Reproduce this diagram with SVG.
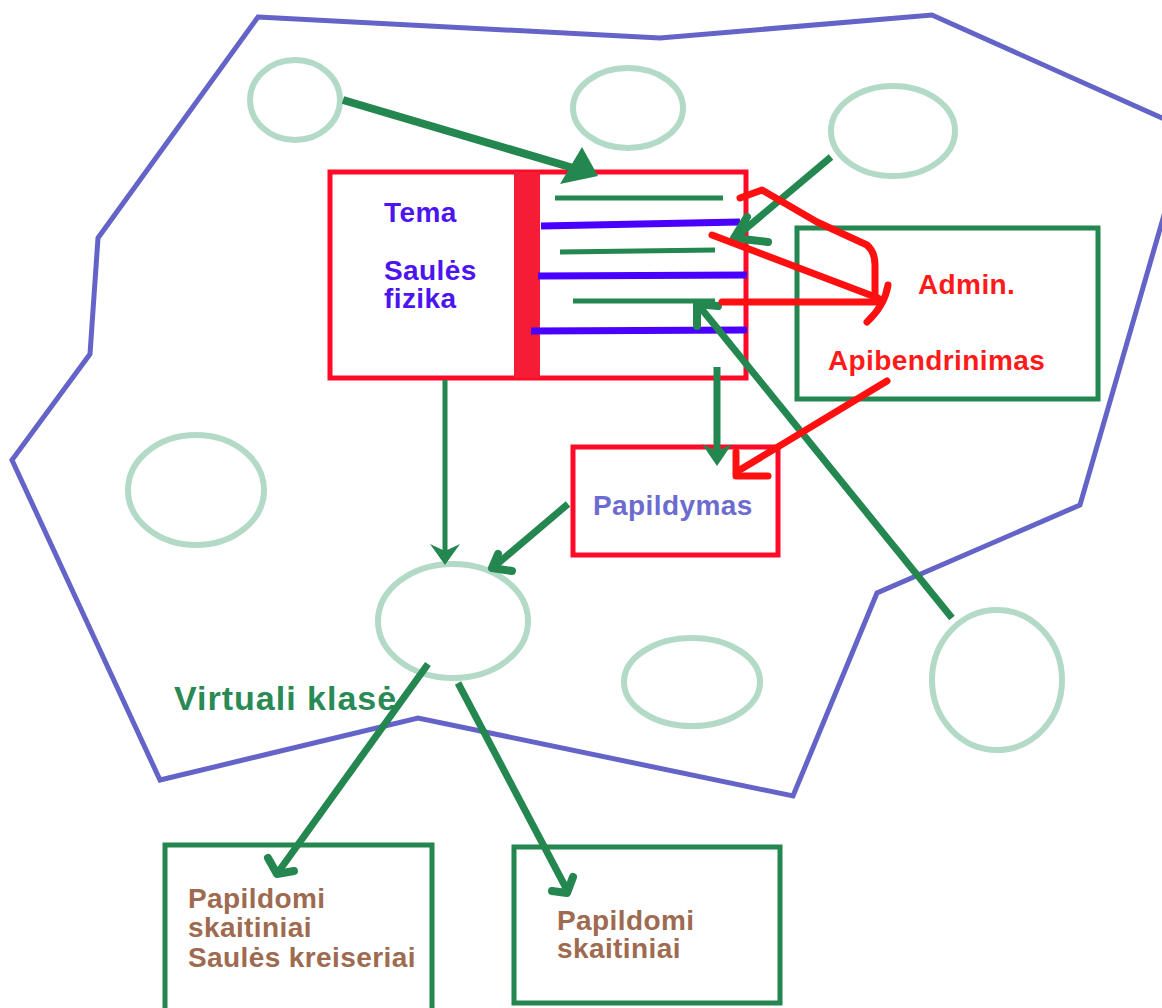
<svg xmlns="http://www.w3.org/2000/svg" width="1162" height="1008" viewBox="0 0 1162 1008">
<style>
.area{fill:none;stroke:#6464c8;stroke-width:5;stroke-linejoin:miter}
.ell{fill:none;stroke:#b3dac6;stroke-width:6}
.rbox{fill:#fff;stroke:#ff0a28;stroke-width:5}
.gbox{fill:none;stroke:#23874f;stroke-width:5}
.gl{stroke:#23874f;stroke-width:5;fill:none}
.bl{stroke:#4a00ff;stroke-width:7;fill:none}
.conn{stroke:#23874f;stroke-width:7;fill:none;stroke-linecap:butt}
.head{stroke:#23874f;stroke-width:8;fill:none;stroke-linecap:round;stroke-linejoin:round}
.fhead{fill:#23874f;stroke:none}
.red{stroke:#ff1010;stroke-width:7;fill:none;stroke-linecap:round;stroke-linejoin:round}
text{font-family:"Liberation Sans",Arial,sans-serif;font-weight:bold;font-size:28px;letter-spacing:0.4px}
.tb{fill:#4b14f0}
.tr{fill:#ff1a1a}
.tp{fill:#6b6bd0}
.tbr{fill:#9e6a50}
.tg{fill:#2a8a55;font-size:34px;letter-spacing:1px}
</style>

<g id="virtual-class">
<path class="area" d="M258,17 L660,38 L932,15 L1182,127 L1180,160 L1080,505 L877,593 L793,796 L418,718 L160,780 L12,460 L90,354 L98,238 Z"/>
<text class="tg" x="174" y="710">Virtuali klasė</text>
</g>

<g id="circles">
<ellipse id="c1" class="ell" cx="295" cy="100" rx="45" ry="40"/>
<ellipse id="c2" class="ell" cx="628" cy="108" rx="55" ry="40"/>
<ellipse id="c3" class="ell" cx="893" cy="131" rx="62" ry="45"/>
<ellipse id="c4" class="ell" cx="196" cy="490" rx="68" ry="55"/>
<ellipse id="c5" class="ell" cx="453" cy="621" rx="75" ry="57"/>
<ellipse id="c6" class="ell" cx="692" cy="682" rx="68" ry="44"/>
<ellipse id="c7" class="ell" cx="997" cy="680" rx="65" ry="70"/>
</g>

<g id="tema">
<rect class="rbox" x="330" y="172" width="416" height="206"/>
<rect x="514" y="172" width="26" height="206" fill="#f51d35"/>
<line class="gl" x1="555" y1="198" x2="723" y2="198"/>
<line class="bl" x1="541" y1="226" x2="740" y2="222"/>
<line class="gl" x1="560" y1="252" x2="715" y2="250"/>
<line class="bl" x1="538" y1="276" x2="747" y2="275"/>
<line class="gl" x1="573" y1="301" x2="715" y2="301"/>
<line class="bl" x1="531" y1="331" x2="747" y2="330"/>
<text class="tb" x="384" y="222">Tema</text>
<text class="tb" x="384" y="280">Saulės</text>
<text class="tb" x="384" y="308">fizika</text>
</g>

<g id="admin">
<rect class="gbox" x="797" y="228" width="301" height="171"/>
<text class="tr" x="918" y="294">Admin.</text>
<text class="tr" x="828" y="370">Apibendrinimas</text>
</g>

<g id="papildymas">
<rect class="rbox" x="573" y="447" width="205" height="108"/>
<text class="tp" x="593" y="515">Papildymas</text>
</g>

<g id="skaitiniai-1">
<rect class="gbox" x="165" y="845" width="267" height="175"/>
<text class="tbr" x="188" y="908">Papildomi</text>
<text class="tbr" x="188" y="937">skaitiniai</text>
<text class="tbr" x="188" y="967">Saulės kreiseriai</text>
</g>

<g id="skaitiniai-2">
<rect class="gbox" x="514" y="847" width="266" height="156"/>
<text class="tbr" x="557" y="930">Papildomi</text>
<text class="tbr" x="557" y="958">skaitiniai</text>
</g>

<g id="connectors">
<line class="conn" x1="343" y1="100" x2="580" y2="170" style="stroke-width:8"/>
<polygon class="fhead" points="582,147 598,176 560,184"/>

<line class="conn" x1="831" y1="157" x2="737" y2="236"/>
<path class="head" d="M747,217 L734,238 L768,242"/>

<line class="conn" x1="952" y1="618" x2="700" y2="307"/>
<path class="head" d="M697,326 L697,304 L718,306"/>

<line class="conn" x1="445" y1="380" x2="445" y2="555" style="stroke-width:5"/>
<polygon class="fhead" points="430,544 445,551 460,544 445,565"/>

<line class="conn" x1="717" y1="367" x2="717" y2="455"/>
<polygon class="fhead" points="702,444 717,451 732,444 717,466"/>

<line class="conn" x1="568" y1="504" x2="496" y2="565"/>
<path class="head" d="M498,554 L492,568 L512,571"/>

<line class="conn" x1="428" y1="664" x2="279" y2="871"/>
<path class="head" d="M268,858 L277,874 L294,871"/>

<line class="conn" x1="458" y1="683" x2="566" y2="888"/>
<path class="head" d="M552,891 L567,893 L573,877"/>

<path class="red" d="M740,198 L762,190 L817,222 L867,245 Q875,252 875,265 L875,296"/>
<line class="red" x1="712" y1="235" x2="878" y2="298"/>
<line class="red" x1="722" y1="302" x2="882" y2="302"/>
<path class="red" d="M888,285 Q885,305 867,322"/>
<line class="red" x1="887" y1="381" x2="738" y2="471"/>
<path class="red" d="M736,452 L736,476 L768,476"/>
</g>
</svg>
